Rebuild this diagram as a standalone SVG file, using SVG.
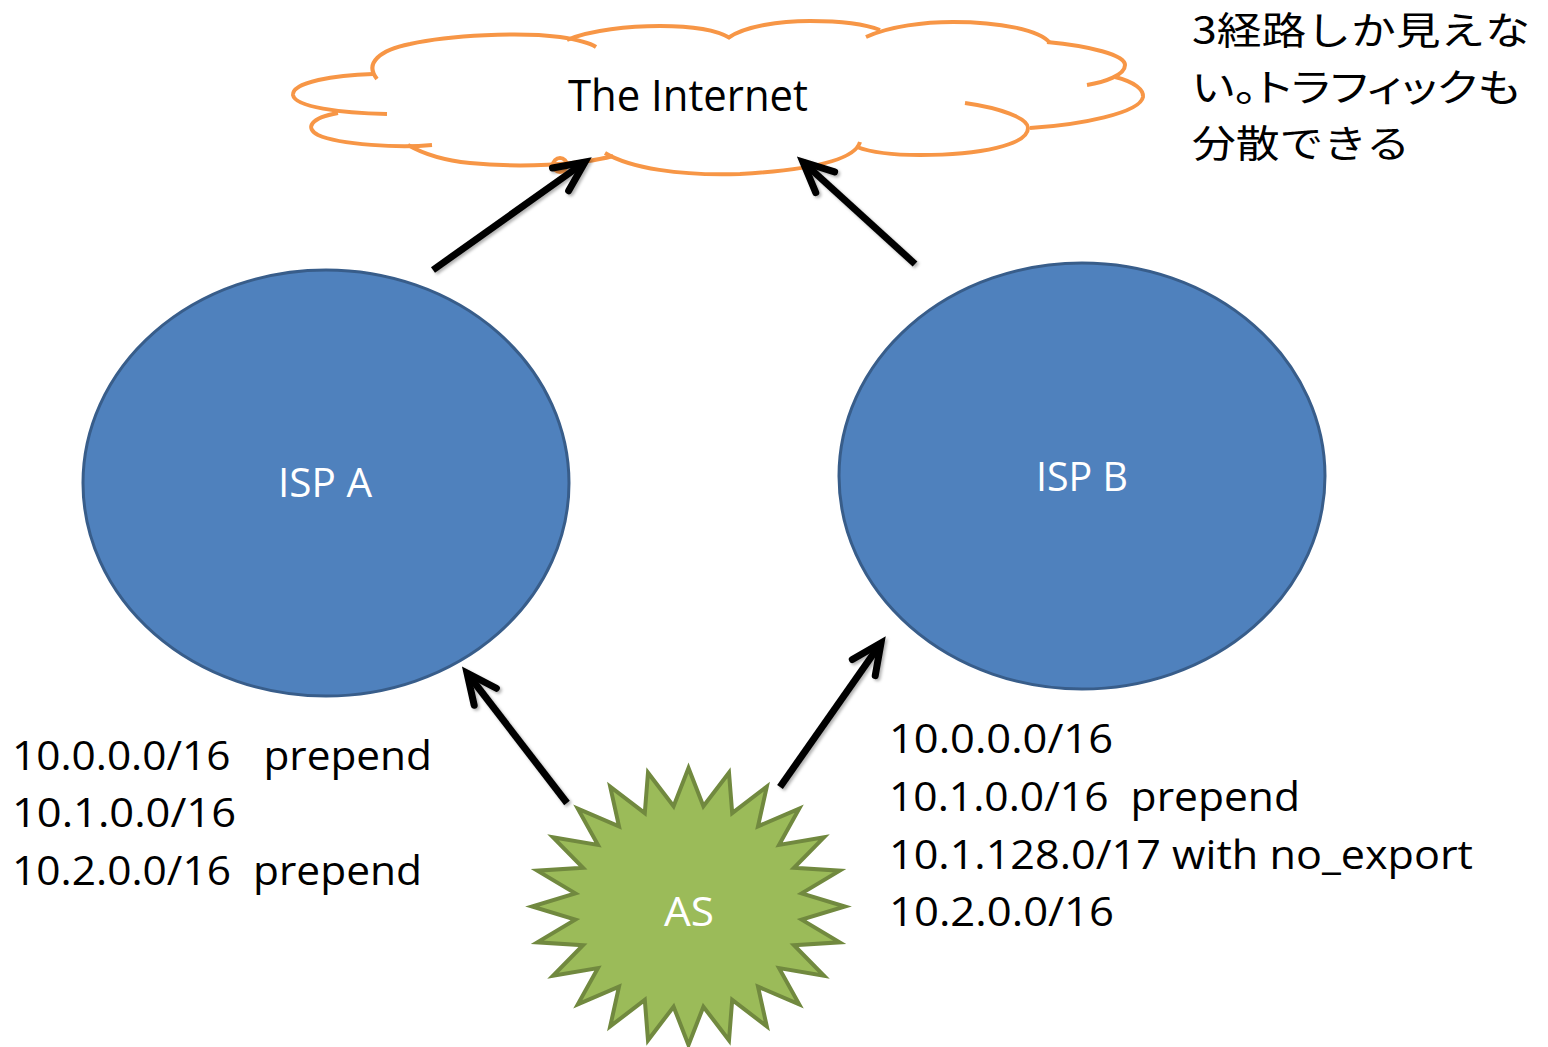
<svg xmlns="http://www.w3.org/2000/svg" width="1548" height="1047" viewBox="0 0 1548 1047">
  <style>
    .lbl { font-family: "Open Sans", "Liberation Sans", sans-serif; white-space: pre; }
    .white { fill: #FFFFFF; font-size: 41px; }
    .route { fill: #000000; font-size: 41px; }
    .note { fill: #000000; font-size: 38px; font-family: "Noto Sans CJK JP", "Noto Sans", sans-serif; white-space: pre; }
    .cloud { fill: none; stroke: #F79646; stroke-width: 4; stroke-linecap: butt; }
    .isp { fill: #4F81BD; stroke: #385D8A; stroke-width: 3; }
    .conn { fill: none; stroke: #000000; stroke-width: 7; }
  </style>
  <defs>
    <filter id="shadow" x="-20%" y="-20%" width="140%" height="140%">
      <feDropShadow dx="2" dy="2" stdDeviation="1.5" flood-color="#000000" flood-opacity="0.3"/>
    </filter>
    <marker id="head" markerUnits="userSpaceOnUse" viewBox="-40 -25 50 50" markerWidth="50" markerHeight="50" refX="0" refY="0" orient="auto">
      <path d="M-30,-14 L0,0 L-30,14" fill="none" stroke="#000000" stroke-width="7" stroke-linecap="round" stroke-linejoin="miter"/>
    </marker>
  </defs>

  <rect width="1548" height="1047" fill="#FFFFFF"/>

  <!-- cloud: The Internet -->
  <g id="internet">
    <path class="cloud" d="M387,114 C340,113 295,107 293,95 C292,82 335,75 373,74"/>
    <path class="cloud" d="M377,79 C364,63 380,50 410,44 C450,35 520,32 560,37 C580,40 590,43 596,47"/>
    <path class="cloud" d="M567,40 C590,30 630,26 660,26 C690,26 715,29 730,38"/>
    <path class="cloud" d="M728,38 C745,26 780,21 810,21 C840,21 865,24 880,30"/>
    <path class="cloud" d="M866,37 C890,26 925,22 953,22 C1000,22 1040,30 1050,43"/>
    <path class="cloud" d="M1047,42 C1090,46 1125,55 1125,65 C1125,75 1105,82 1087,85"/>
    <path class="cloud" d="M1115,77 C1135,82 1144,90 1143,97 C1140,113 1080,125 1030,128"/>
    <path class="cloud" d="M965,103 C1000,108 1028,118 1028,128 C1028,145 980,155 920,155 C890,155 870,152 857,147"/>
    <path class="cloud" d="M860,142 C855,160 810,170 740,174 C680,176 630,168 605,153"/>
    <path class="cloud" d="M613,156 C580,165 520,168 470,163 C440,160 420,152 408,145"/>
    <path class="cloud" d="M432,145 C400,148 340,145 318,135 C305,128 310,118 338,113"/>
    <circle class="cloud" cx="560" cy="165" r="7"/>
    <text class="lbl" x="568" y="111" font-size="44" fill="#000000" textLength="240" lengthAdjust="spacingAndGlyphs">The Internet</text>
  </g>

  <!-- ISP A -->
  <g id="isp-a">
    <ellipse class="isp" cx="326" cy="483" rx="243" ry="213"/>
    <text class="lbl white" x="278" y="497" textLength="94" lengthAdjust="spacingAndGlyphs">ISP A</text>
  </g>

  <!-- ISP B -->
  <g id="isp-b">
    <ellipse class="isp" cx="1082" cy="476" rx="243" ry="213"/>
    <text class="lbl white" x="1036" y="491" textLength="92" lengthAdjust="spacingAndGlyphs">ISP B</text>
  </g>

  <!-- AS: 24-point star -->
  <g id="as">
    <polygon fill="#9BBB59" stroke="#71893F" stroke-width="4" stroke-linejoin="miter"
      points="688.5,768 703.4,806.3 729,772.7 732.2,813.1 766.8,786.6 758,826.3 799.2,808.6 779.1,844.9 824,837.3 794,867.8 839.7,870.7 801.7,893.3 845,906.5 801.7,919.7 839.7,942.3 794,945.2 824,975.8 779.1,968.1 799.2,1004.4 758,986.7 766.8,1026.4 732.2,999.9 729,1040.3 703.4,1006.7 688.5,1045 673.6,1006.7 648,1040.3 644.8,999.9 610.2,1026.4 619,986.7 577.8,1004.4 597.9,968.1 553,975.8 583,945.2 537.3,942.3 575.3,919.7 532,906.5 575.3,893.3 537.3,870.7 583,867.8 553,837.3 597.9,844.9 577.8,808.6 619,826.3 610.2,786.6 644.8,813.1 648,772.7 673.6,806.3"/>
    <text class="lbl white" x="664" y="926" textLength="50" lengthAdjust="spacingAndGlyphs">AS</text>
  </g>

  <!-- route announcements -->
  <g id="routes-a">
    <text class="lbl route" x="12" y="770" textLength="420" lengthAdjust="spacingAndGlyphs">10.0.0.0/16   prepend</text>
    <text class="lbl route" x="12" y="827" textLength="224" lengthAdjust="spacingAndGlyphs">10.1.0.0/16</text>
    <text class="lbl route" x="12" y="885" textLength="410" lengthAdjust="spacingAndGlyphs">10.2.0.0/16  prepend</text>
  </g>
  <g id="routes-b">
    <text class="lbl route" x="889" y="753" textLength="224" lengthAdjust="spacingAndGlyphs">10.0.0.0/16</text>
    <text class="lbl route" x="889" y="811" textLength="411" lengthAdjust="spacingAndGlyphs">10.1.0.0/16  prepend</text>
    <text class="lbl route" x="889" y="869" textLength="584" lengthAdjust="spacingAndGlyphs">10.1.128.0/17 with no_export</text>
    <text class="lbl route" x="889" y="926" textLength="225" lengthAdjust="spacingAndGlyphs">10.2.0.0/16</text>
  </g>

  <!-- note -->
  <g id="note">
    <text class="note" x="1192" y="44" textLength="338" lengthAdjust="spacingAndGlyphs">3経路しか見えな</text>
    <text class="note" x="1192" y="101" textLength="328" lengthAdjust="spacingAndGlyphs" style="font-feature-settings: 'palt'">い。トラフィックも</text>
    <text class="note" x="1192" y="157" textLength="218" lengthAdjust="spacingAndGlyphs">分散できる</text>
  </g>

  <!-- connectors -->
  <g id="connectors" filter="url(#shadow)">
    <line class="conn" x1="433" y1="270" x2="585" y2="162" marker-end="url(#head)"/>
    <line class="conn" x1="915" y1="264" x2="803" y2="162" marker-end="url(#head)"/>
    <line class="conn" x1="567" y1="803" x2="467" y2="673" marker-end="url(#head)"/>
    <line class="conn" x1="780" y1="787" x2="881" y2="643" marker-end="url(#head)"/>
  </g>
</svg>
